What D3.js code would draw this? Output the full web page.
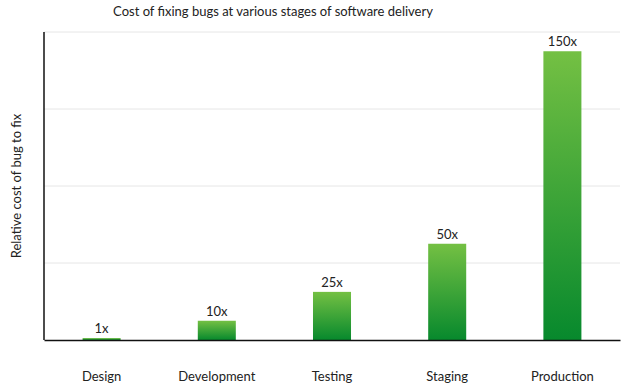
<!DOCTYPE html>
<html>
<head>
<meta charset="utf-8">
<script src="https://cdn.jsdelivr.net/npm/d3@7"></script>
<style>
  body { margin: 0; background: #fff; }
  text { font-family: Lato, "Open Sans", sans-serif; fill: #222; }
</style>
</head>
<body>
<div id="chart"></div>
<script>
var stages = ['Design', 'Development', 'Testing', 'Staging', 'Production'];
var costs = [1, 10, 25, 50, 150];
var costLabels = ['1x', '10x', '25x', '50x', '150x'];
var yTicks = [0, 40, 80, 120, 160];

var margin = {top: 32, right: 15, bottom: 50, left: 44},
    width = 635 - margin.left - margin.right,
    height = 390 - margin.top - margin.bottom;

var root = d3.select('#chart')
    .append('svg')
        .attr('width', 635)
        .attr('height', 390);

var defs = root.append('defs');
var grad = defs.append('linearGradient')
    .attr('id', 'barGrad')
    .attr('x1', 0).attr('y1', 0)
    .attr('x2', 0).attr('y2', 1);
grad.append('stop').attr('offset', '0%').attr('stop-color', '#74c043');
grad.append('stop').attr('offset', '100%').attr('stop-color', '#07892d');

root.append('text')
    .attr('x', 273)
    .attr('y', 16)
    .attr('text-anchor', 'middle')
    .style('font-size', '13px')
    .text('Cost of fixing bugs at various stages of software delivery');

var svg = root.append('g')
    .attr('transform', 'translate(' + margin.left + ',' + margin.top + ')');

const x = d3.scaleBand()
    .domain(stages)
    .range([0, width])
    .paddingInner(0.67)
    .paddingOuter(0.335);

const y = d3.scaleLinear()
    .domain([0, 160])
    .range([height, 0]);

// gridlines
svg.append('g')
    .selectAll('line')
    .data(yTicks.slice(1))
    .enter()
    .append('line')
    .attr('x1', 0)
    .attr('x2', width)
    .attr('y1', d => y(d))
    .attr('y2', d => y(d))
    .style('stroke', '#e6e6e6')
    .style('stroke-width', 1);

svg.append('g')
    .selectAll('rect')
    .data(costs)
    .enter()
    .append('rect')
    .attr('x', (d, i) => x(stages[i]))
    .attr('y', d => y(d))
    .attr('width', x.bandwidth())
    .attr('height', d => height - y(d))
    .style('fill', 'url(#barGrad)');

svg.append('g')
    .selectAll('text')
    .data(costs)
    .enter()
    .append('text')
    .attr('x', (d, i) => x(stages[i]) + x.bandwidth() / 2)
    .attr('y', d => y(d) - 5)
    .attr('text-anchor', 'middle')
    .style('font-size', '13px')
    .text((d, i) => costLabels[i]);

const xAxis = d3.axisBottom(x).tickSize(0).tickPadding(32);
const gx = svg.append('g')
    .attr('transform', 'translate(0,' + height + ')')
    .call(xAxis);
gx.select('.domain').style('stroke', '#111').style('stroke-width', 1.5);
gx.selectAll('text').style('font-size', '13px').style('fill', '#222')
    .style('font-family', 'Lato, "Open Sans", sans-serif');

svg.append('line')
    .attr('x1', 0).attr('x2', 0)
    .attr('y1', y(160)).attr('y2', height)
    .style('stroke', '#111')
    .style('stroke-width', 1.5);

root.append('text')
    .attr('transform', 'translate(21,' + (margin.top + height / 2) + ') rotate(-90)')
    .attr('text-anchor', 'middle')
    .style('font-size', '13px')
    .text('Relative cost of bug to fix');
</script>
</body>
</html>
